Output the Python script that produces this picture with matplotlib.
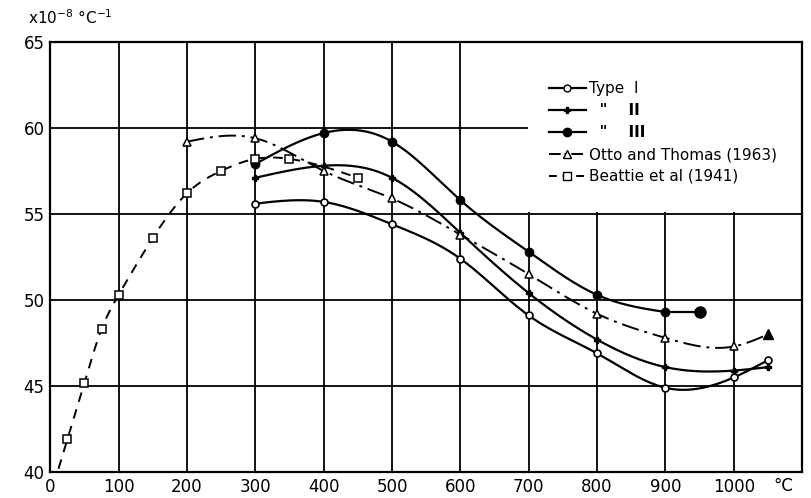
import numpy as np
import matplotlib.pyplot as plt
from matplotlib.patches import Rectangle

plt.rcParams['font.family'] = ['DejaVu Sans']
plt.rcParams['mathtext.default'] = 'regular'

# Dados (temperatura em °C, coeficiente x10^-8 °C^-1)
x_tipo1 = [300, 400, 500, 600, 700, 800, 900, 1000, 1050]
y_tipo1 = [55.6, 55.7, 54.4, 52.4, 49.1, 46.9, 44.9, 45.5, 46.5]

x_tipo2 = [300, 400, 500, 600, 700, 800, 900, 1000, 1050]
y_tipo2 = [57.1, 57.8, 57.1, 53.9, 50.4, 47.7, 46.1, 45.9, 46.1]

x_tipo3 = [300, 400, 500, 600, 700, 800, 900, 950]
y_tipo3 = [57.9, 59.7, 59.2, 55.8, 52.8, 50.3, 49.3, 49.3]

x_otto = [200, 300, 400, 500, 600, 700, 800, 900, 1000, 1050]
y_otto = [59.2, 59.4, 57.5, 55.9, 53.8, 51.5, 49.2, 47.8, 47.3, 48.0]

x_beattie = [25, 50, 75, 100, 150, 200, 250, 300, 350, 450]
y_beattie = [41.9, 45.2, 48.3, 50.3, 53.6, 56.2, 57.5, 58.2, 58.2, 57.1]

xticks = [0, 100, 200, 300, 400, 500, 600, 700, 800, 900, 1000]
yticks = [40, 45, 50, 55, 60, 65]


def suave(x, y, x_ini=None, n=40):
    # spline cúbica natural passando pelos pontos lidos
    x = np.asarray(x, float)
    y = np.asarray(y, float)
    k = len(x)
    h = np.diff(x)
    A = np.zeros((k, k))
    b = np.zeros(k)
    A[0, 0] = A[-1, -1] = 1
    for i in range(1, k - 1):
        A[i, i - 1] = h[i - 1]
        A[i, i] = 2 * (h[i - 1] + h[i])
        A[i, i + 1] = h[i]
        b[i] = 3 * ((y[i + 1] - y[i]) / h[i] - (y[i] - y[i - 1]) / h[i - 1])
    c = np.linalg.solve(A, b)
    xs, ys = [], []
    for i in range(k - 1):
        bi = (y[i + 1] - y[i]) / h[i] - h[i] * (2 * c[i] + c[i + 1]) / 3
        di = (c[i + 1] - c[i]) / (3 * h[i])
        x0 = x_ini if (i == 0 and x_ini is not None) else x[i]
        t = np.linspace(x0, x[i + 1], n) - x[i]
        xs.append(x[i] + t)
        ys.append(y[i] + bi * t + c[i] * t**2 + di * t**3)
    return np.concatenate(xs), np.concatenate(ys)


fig = plt.figure(figsize=(8.11, 4.98), dpi=100)
ax = fig.add_axes([0.062, 0.052, 0.927, 0.864])

lw = 1.6
ax.plot(*suave(x_tipo1, y_tipo1), color='black', lw=lw, zorder=3)
ax.plot(x_tipo1, y_tipo1, 'o', color='black', mfc='white', ms=5, mew=1.2, zorder=4)

ax.plot(*suave(x_tipo2, y_tipo2), color='black', lw=lw, zorder=3)
ax.plot(x_tipo2, y_tipo2, 'P', color='black', ms=5, zorder=4)

ax.plot(*suave(x_tipo3[:-1], y_tipo3[:-1]), color='black', lw=lw, zorder=3)
ax.plot(x_tipo3[-2:], y_tipo3[-2:], color='black', lw=lw, zorder=3)
ax.plot(x_tipo3[:-1], y_tipo3[:-1], 'o', color='black', ms=6, zorder=4)
ax.plot(x_tipo3[-1:], y_tipo3[-1:], 'o', color='black', ms=8, zorder=4)

ax.plot(*suave(x_otto, y_otto), color='black', lw=1.4, ls=(0, (9, 3, 1.5, 3)), zorder=3)
ax.plot(x_otto[:-1], y_otto[:-1], '^', color='black', mfc='white', ms=6, mew=1.1, zorder=4)
ax.plot(x_otto[-1:], y_otto[-1:], '^', color='black', ms=7, zorder=4)

ax.plot(*suave(x_beattie, y_beattie, x_ini=12), color='black', lw=1.4, ls=(0, (5, 4)), zorder=3)
ax.plot(x_beattie, y_beattie, 's', color='black', mfc='white', ms=6, mew=1.1, zorder=4)

# entradas da legenda
ax.plot([], [], '-o', color='black', mfc='white', ms=5, lw=lw, label='Type  I')
ax.plot([], [], '-P', color='black', ms=5, lw=lw, label='  "    II')
ax.plot([], [], '-o', color='black', ms=6, lw=lw, label='  "    III')
ax.plot([], [], '^', color='black', mfc='white', ms=6, lw=1.4, ls=(0, (6, 2, 1.5, 2)),
        label='Otto and Thomas (1963)')
ax.plot([], [], 's', color='black', mfc='white', ms=6, lw=1.4, ls=(0, (4, 3)),
        label='Beattie et al (1941)')

ax.add_patch(Rectangle((0.636, 0.605), 0.364, 0.395, transform=ax.transAxes,
                       facecolor='white', edgecolor='none', zorder=2))
leg = ax.legend(loc='upper left', bbox_to_anchor=(0.645, 0.94), frameon=False,
                fontsize=11, handlelength=2.4, handletextpad=0.2, labelspacing=0.45)
for t in leg.get_texts()[1:3]:
    t.set_fontweight('bold')

ax.set_xlim(0, 1100)
ax.set_ylim(40, 65)
ax.set_xticks(xticks)
ax.set_yticks(yticks)
ax.tick_params(labelsize=12, length=0, pad=4)
ax.grid(True, color='black', lw=1.3, zorder=1)
ax.set_axisbelow(True)
for s in ax.spines.values():
    s.set_linewidth(1.6)

ax.text(1072, -0.012, '°C', transform=ax.get_xaxis_transform(), ha='center', va='top', fontsize=12)
fig.text(0.035, 0.945, 'x10$^{-8}$ °C$^{-1}$', fontsize=11, ha='left', va='bottom')

plt.savefig('out.png', dpi=100)
